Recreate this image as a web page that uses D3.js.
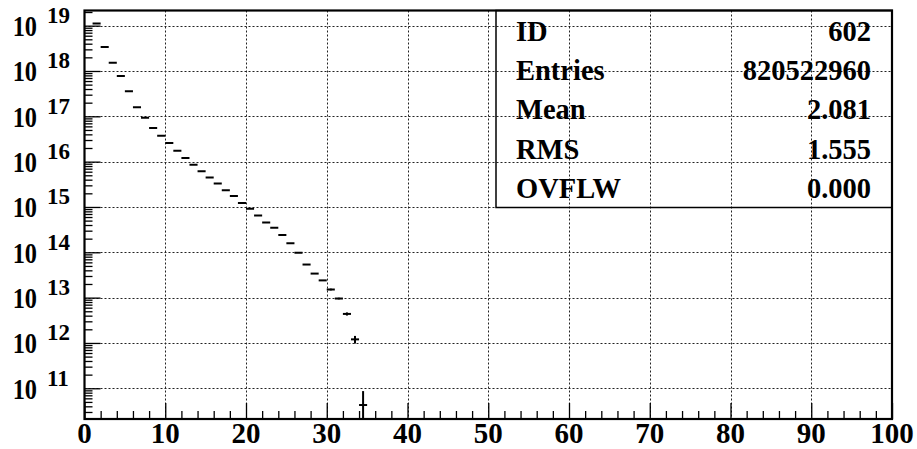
<!DOCTYPE html>
<html>
<head>
<meta charset="utf-8">
<script src="https://cdn.jsdelivr.net/npm/d3@7"></script>
<style>
  html, body { margin: 0; padding: 0; background: #fff; }
  svg { display: block; }
  text { font-family: "Liberation Serif", "Times New Roman", serif; font-weight: bold; fill: #000; }
</style>
</head>
<body>
<svg id="chart" width="917" height="449"></svg>
<script>
// Histogram 602: bin lower edges (width 1), contents and errors
const binLow = [1, 2, 3, 4, 5, 6, 7, 8, 9, 10, 11, 12, 13, 14, 15, 16, 17,
                18, 19, 20, 21, 22, 23, 24, 25, 26, 27, 28, 29, 30, 31, 32, 33, 34];
const binValue = [1.11e19, 3.39e18, 1.51e18, 7.76e17, 3.55e17, 1.58e17, 9.33e16, 5.50e16,
                  3.72e16, 2.57e16, 1.74e16, 1.20e16, 8.51e15, 6.17e15, 4.47e15, 3.31e15,
                  2.34e15, 1.74e15, 1.23e15, 9.12e14, 6.46e14, 4.57e14, 3.47e14, 2.40e14,
                  1.58e14, 9.77e13, 5.37e13, 3.39e13, 2.40e13, 1.51e13, 9.55e12, 4.37e12,
                  1.20e12, 4.27e10];
const binError = [0, 0, 0, 0, 0, 0, 0, 0, 0, 0, 0, 0, 0, 0, 0, 0, 0,
                  0, 0, 0, 0, 0, 0, 0, 0, 0, 0, 0, 0, 7e11, 4e11, 3.5e11, 2.3e11, 4.4e10];
const binWidth = 1;

// Axis ranges and ticks
const xDomain = [0, 100];
const yDomain = [2.1e10, 2.16e19];
const xMajorTicks = [0, 10, 20, 30, 40, 50, 60, 70, 80, 90, 100];
const xMinorTicks = [2, 4, 6, 8, 12, 14, 16, 18, 22, 24, 26, 28, 32, 34, 36, 38,
                     42, 44, 46, 48, 52, 54, 56, 58, 62, 64, 66, 68, 72, 74, 76, 78,
                     82, 84, 86, 88, 92, 94, 96, 98];
const yExponents = [11, 12, 13, 14, 15, 16, 17, 18, 19];

// Statistics box
const statNames = ["ID", "Entries", "Mean", "RMS", "OVFLW"];
const statValues = ["602", "820522960", "2.081", "1.555", "0.000"];

const svg = d3.select("#chart");
const L = 84.5, R = 892, T = 10.5, B = 419;

const x = d3.scaleLinear().domain(xDomain).range([L, R]);
const y = d3.scaleLog().domain(yDomain).range([B, T]);

const yMajorVals = yExponents.map(e => Math.pow(10, e));
const yMinorVals = [];
for (let e = 10; e <= 19; e++) {
  for (let m = 2; m <= 9; m++) {
    const v = m * Math.pow(10, e);
    if (v > yDomain[0] && v < yDomain[1]) yMinorVals.push(v);
  }
}

svg.append("defs").append("clipPath").attr("id", "plotClip")
  .append("rect").attr("x", L).attr("y", T).attr("width", R - L).attr("height", B - T);

// Dotted grid
const grid = svg.append("g").attr("stroke", "#222").attr("stroke-width", 1)
  .attr("stroke-dasharray", "2,2");
grid.selectAll("line.gx").data(xMajorTicks.filter(v => v > 0 && v < 100)).join("line")
  .attr("x1", d => Math.round(x(d)) + 0.5).attr("x2", d => Math.round(x(d)) + 0.5)
  .attr("y1", T).attr("y2", B);
grid.selectAll("line.gy").data(yMajorVals).join("line")
  .attr("x1", L).attr("x2", R)
  .attr("y1", d => Math.round(y(d)) + 0.5).attr("y2", d => Math.round(y(d)) + 0.5);

// Axes: ticks point into the frame
function styleAxis(g) {
  g.select(".domain").remove();
  g.selectAll(".tick line").attr("stroke", "#000").attr("stroke-width", 1.3);
  g.selectAll(".tick text").remove();
}
svg.append("g").attr("transform", `translate(0,${B})`)
  .call(d3.axisBottom(x).tickValues(xMajorTicks).tickSize(-16).tickFormat(""))
  .call(styleAxis);
svg.append("g").attr("transform", `translate(0,${B})`)
  .call(d3.axisBottom(x).tickValues(xMinorTicks).tickSize(-8).tickFormat(""))
  .call(styleAxis);
svg.append("g").attr("transform", `translate(${L},0)`)
  .call(d3.axisLeft(y).tickValues(yMajorVals).tickSize(-16).tickFormat(""))
  .call(styleAxis);
svg.append("g").attr("transform", `translate(${L},0)`)
  .call(d3.axisLeft(y).tickValues(yMinorVals).tickSize(-8).tickFormat(""))
  .call(styleAxis);

// X tick labels
svg.append("g").selectAll("text").data(xMajorTicks).join("text")
  .attr("x", d => x(d)).attr("y", 443)
  .attr("text-anchor", "middle").attr("font-size", 29)
  .text(d => d);

// Y tick labels: 10 with superscript exponent
const yl = svg.append("g").selectAll("g").data(yExponents).join("g")
  .attr("transform", d => `translate(0,${y(Math.pow(10, d))})`);
yl.append("text").attr("x", 37).attr("y", 10.5)
  .attr("text-anchor", "end").attr("font-size", 29)
  .attr("transform", "translate(37,0) scale(0.84,1) translate(-37,0)")
  .text("10");
yl.append("text").attr("x", 47).attr("y", -2.5)
  .attr("font-size", 23)
  .text(d => d);

// Histogram contents: horizontal bin bars with error bars
const bins = binLow.map((lo, i) => ({ lo, v: binValue[i], e: binError[i] }));
const marks = svg.append("g").attr("clip-path", "url(#plotClip)")
  .attr("stroke", "#000").attr("stroke-width", 2);
marks.selectAll("line.bar").data(bins).join("line")
  .attr("x1", d => x(d.lo)).attr("x2", d => x(d.lo + binWidth))
  .attr("y1", d => y(d.v)).attr("y2", d => y(d.v));
marks.selectAll("line.err").data(bins.filter(d => d.e > 0)).join("line")
  .attr("x1", d => x(d.lo + binWidth / 2)).attr("x2", d => x(d.lo + binWidth / 2))
  .attr("y1", d => y(d.v + d.e))
  .attr("y2", d => (d.v - d.e) > 0 ? y(d.v - d.e) : B + 5);

// Frame
svg.append("rect").attr("x", L).attr("y", T).attr("width", R - L).attr("height", B - T)
  .attr("fill", "none").attr("stroke", "#000").attr("stroke-width", 2.2);

// Statistics box
const bx = 496, by = T, bw = R - 496, bh = 197;
svg.append("rect").attr("x", bx).attr("y", by).attr("width", bw).attr("height", bh)
  .attr("fill", "none").attr("stroke", "#000").attr("stroke-width", 1.5);
const rows = svg.append("g").selectAll("g").data(statNames).join("g")
  .attr("transform", (d, i) => `translate(0,${41 + i * 39.2})`);
rows.append("text").attr("x", 516).attr("y", 0).attr("font-size", 28.5).text(d => d);
rows.append("text").attr("x", 871).attr("y", 0).attr("font-size", 28.5)
  .attr("text-anchor", "end").text((d, i) => statValues[i]);
</script>
</body>
</html>
